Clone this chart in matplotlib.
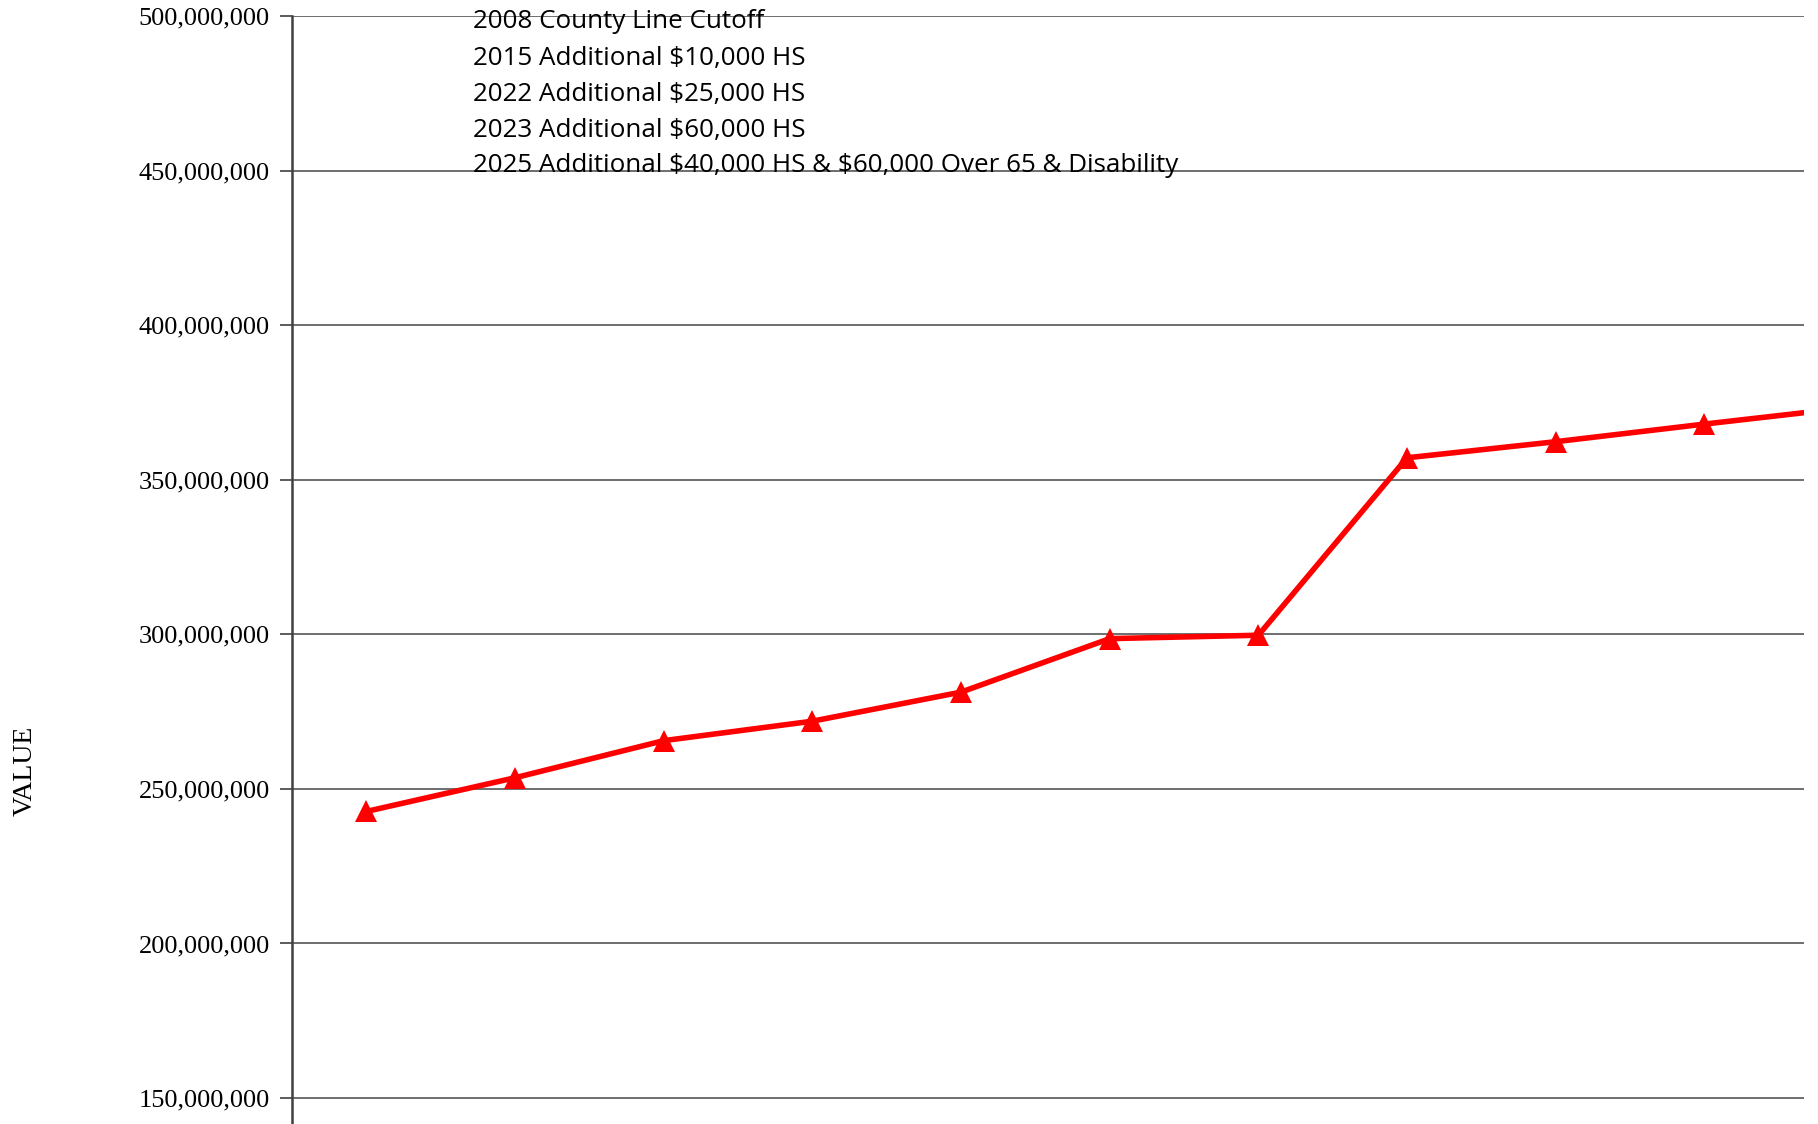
import matplotlib
matplotlib.use("Agg")
import matplotlib.pyplot as plt
from matplotlib.ticker import FuncFormatter

# Data
categories = ["P1", "P2", "P3", "P4", "P5", "P6", "P7", "P8", "P9", "P10", "P11"]
values = [242.7e6, 253.6e6, 265.6e6, 271.9e6, 281.3e6, 298.6e6, 299.7e6,
          357.1e6, 362.3e6, 368.0e6, 373.5e6]
yticks = [150e6, 200e6, 250e6, 300e6, 350e6, 400e6, 450e6, 500e6]
notes = ["2008 County Line Cutoff",
         "2015 Additional $10,000 HS",
         "2022 Additional $25,000 HS",
         "2023 Additional $60,000 HS",
         "2025 Additional $40,000 HS & $60,000 Over 65 & Disability"]

W, H = 1818, 1124
fig = plt.figure(figsize=(W / 100, H / 100), dpi=100)
ax = fig.add_axes([292 / W, 0, (1804 - 292) / W, 1 - 16 / H])

x = list(range(len(categories)))
ax.plot(x, values, color="#ff0000", lw=4, marker="^", markersize=16,
        markeredgewidth=0, zorder=3, clip_on=True)

ax.set_xlim(-0.5, 9.67)
ax.set_ylim(141.6e6, 500e6)
ax.set_yticks(yticks)
ax.yaxis.set_major_formatter(FuncFormatter(lambda v, p: f"{int(round(v)):,}"))
ax.set_xticks([])

for s in ["top", "right", "bottom"]:
    ax.spines[s].set_visible(False)
ax.spines["left"].set_color("#404040")
ax.spines["left"].set_linewidth(1.8)

ax.grid(axis="y", color="#6e6e6e", lw=1.4)
ax.set_axisbelow(True)
ax.tick_params(axis="y", length=9, width=1.2, color="#404040", pad=7,
               labelsize=19)
for lab in ax.get_yticklabels():
    lab.set_fontfamily("Liberation Serif")

fig.text(25 / W, 1 - 771 / H, "VALUE", rotation=90, ha="center", va="center",
         fontsize=20, family="Liberation Serif")

for i, t in enumerate(notes):
    fig.text(473 / W, 1 - (22 + 36 * i) / H, t, ha="left", va="center",
             fontsize=18.7, family=["Open Sans", "DejaVu Sans"],
             parse_math=False)

fig.savefig("out.png", dpi=100)
